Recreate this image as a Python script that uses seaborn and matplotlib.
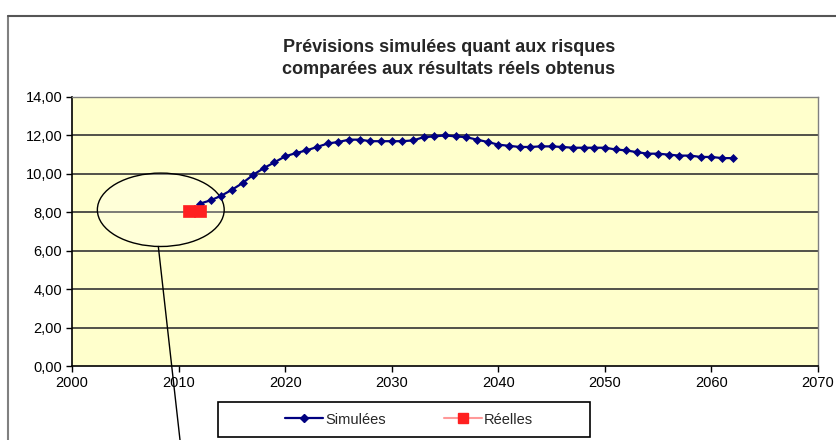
import numpy as np
import pandas as pd
import seaborn as sns
import matplotlib.pyplot as plt
from matplotlib.patches import Ellipse, Rectangle
from matplotlib.lines import Line2D

# simulated forecasts, one point per year
sim_years = list(range(2012, 2063))
sim_values = [8.45, 8.62, 8.86, 9.17, 9.52, 9.95, 10.30, 10.60, 10.91, 11.08,
              11.22, 11.40, 11.58, 11.66, 11.78, 11.78, 11.70, 11.70, 11.70, 11.70,
              11.74, 11.91, 11.95, 12.00, 11.95, 11.91, 11.78, 11.66, 11.52, 11.46,
              11.40, 11.40, 11.43, 11.43, 11.40, 11.36, 11.36, 11.36, 11.36, 11.27,
              11.22, 11.13, 11.05, 11.05, 11.00, 10.95, 10.95, 10.88, 10.88, 10.82,
              10.82]

# actual results
real_years = [2011, 2012]
real_values = [8.05, 8.08]

x_ticks = [2000, 2010, 2020, 2030, 2040, 2050, 2060, 2070]
y_ticks = [0, 2, 4, 6, 8, 10, 12, 14]

title_lines = ["Prévisions simulées quant aux risques", "comparées aux résultats réels obtenus"]
series_names = ["Simulées", "Réelles"]

df_sim = pd.DataFrame({"annee": sim_years, "valeur": sim_values})
df_real = pd.DataFrame({"annee": real_years, "valeur": real_values})

sns.set_style("white")
plt.rcParams['font.family'] = ['Liberation Sans', 'DejaVu Sans']

W, H = 836, 440
fig = plt.figure(figsize=(W / 100, H / 100), dpi=100)
ax = fig.add_axes([72 / W, 74 / H, 746 / W, 269 / H])
ax.set_facecolor('#FFFFCC')

navy = '#000080'
red = '#FF2020'

sns.lineplot(data=df_sim, x="annee", y="valeur", ax=ax, color=navy, lw=1.6,
             marker='D', markersize=4.5, markeredgecolor=navy, markeredgewidth=0.5,
             zorder=3)
sns.lineplot(data=df_real, x="annee", y="valeur", ax=ax, color='#FF9999', lw=1.2,
             marker='s', markersize=9, markerfacecolor=red, markeredgecolor=red,
             markeredgewidth=0.5, zorder=4)

ax.set_xlim(2000, 2070)
ax.set_ylim(0, 14)
ax.set_xticks(x_ticks)
ax.set_yticks(y_ticks)
ax.set_xticklabels([str(v) for v in x_ticks])
ax.set_yticklabels([f"{v:.2f}".replace('.', ',') for v in y_ticks])
ax.set_xlabel("")
ax.set_ylabel("")
ax.tick_params(axis='both', labelsize=10.5, colors='black', direction='out',
               length=4, width=1, pad=3, left=True, bottom=True)

for y in y_ticks[1:]:
    ax.axhline(y, color='#333333', lw=1.2, zorder=1)

for side in ['left', 'bottom']:
    ax.spines[side].set_color('black')
    ax.spines[side].set_linewidth(1.2)
for side in ['top', 'right']:
    ax.spines[side].set_color('#808080')
    ax.spines[side].set_linewidth(1)

# circled area + pointer
ax.add_patch(Ellipse((2008.33, 8.13), 11.9, 3.82, facecolor=(1, 1, 1, 0.25),
                     edgecolor='black', lw=1, zorder=2))
ax.annotate('', xy=(180 / W, 0), xycoords='figure fraction',
            xytext=(2008.1, 6.22), textcoords='data',
            arrowprops=dict(arrowstyle='-', color='black', lw=1,
                            shrinkA=0, shrinkB=0), annotation_clip=False)

fig.text(449 / W, 1 - 48 / H, title_lines[0], ha='center', va='center',
         fontsize=13, fontweight='bold')
fig.text(449 / W, 1 - 70 / H, title_lines[1], ha='center', va='center',
         fontsize=13, fontweight='bold')

# outer chart border (cropped)
fig.add_artist(Line2D([8 / W, 8 / W], [0, 1 - 16 / H], color='#808080', lw=1.5))
fig.add_artist(Line2D([8 / W, 1], [1 - 16 / H, 1 - 16 / H], color='#555555', lw=1.5))

# legend
handles = [Line2D([], [], color=navy, lw=1.6, marker='D', markersize=4.5,
                  markerfacecolor=navy, markeredgecolor=navy),
           Line2D([], [], color='#FF9999', lw=1.5, marker='s', markersize=7,
                  markerfacecolor=red, markeredgecolor=red)]
fig.legend(handles, series_names, loc='center', bbox_to_anchor=(409 / W, 20.5 / H),
           ncol=2, frameon=False, fontsize=10.5, handlelength=2.6,
           handletextpad=0.15, columnspacing=4)
fig.add_artist(Rectangle((218 / W, 3 / H), 372 / W, 35 / H, transform=fig.transFigure,
                         fill=False, edgecolor='black', lw=1.2))

fig.savefig('out.png', dpi=100)
